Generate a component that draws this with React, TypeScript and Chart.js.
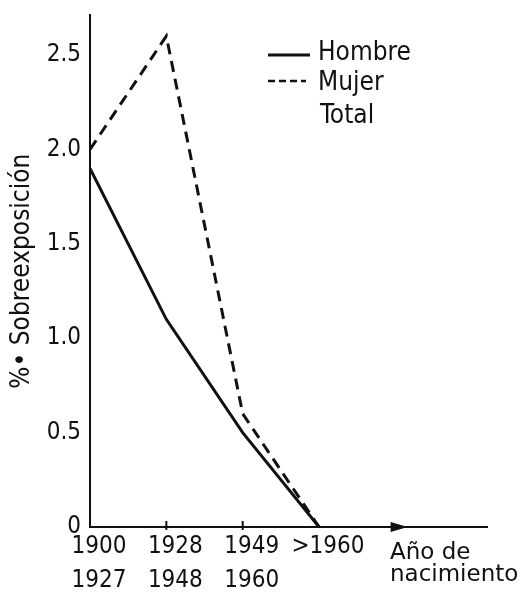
import React, { useEffect, useRef } from "react";
import { Chart, registerables } from "chart.js";

Chart.register(...registerables);

// ---- data ----
const categories: string[][] = [["1900", "1927"], ["1928", "1948"], ["1949", "1960"], [">1960"]];
const hombre = [1.9, 1.1, 0.5, 0];
const mujer = [2.0, 2.6, 0.6, 0];
const yTickValues = [0, 0.5, 1, 1.5, 2, 2.5];
const yTickLabels = ["0", "0.5", "1.0", "1.5", "2.0", "2.5"];
const legendLabels = ["Hombre", "Mujer", "Total"];
const yTitle = "%• Sobreexposición";
const xTitle = ["Año de", "nacimiento"];

const INK = "#111";
const COND = "'DejaVu Sans Condensed', 'DejaVu Sans', sans-serif";

const decorPlugin = {
  id: "decor",
  afterDraw(chart: any) {
    const { ctx, scales } = chart;
    const xs = scales.x;
    const ys = scales.y;
    const y0 = ys.getPixelForValue(0);
    ctx.save();
    ctx.strokeStyle = INK;
    ctx.fillStyle = INK;
    // small tick marks on x axis
    ctx.lineWidth = 2;
    for (let i = 1; i < categories.length - 1; i++) {
      const px = xs.getPixelForValue(i);
      ctx.beginPath();
      ctx.moveTo(px, y0 - 6);
      ctx.lineTo(px, y0 + 3);
      ctx.stroke();
    }
    // arrow head on x axis
    const tip = xs.getPixelForValue(4.16);
    ctx.beginPath();
    ctx.moveTo(tip, y0);
    ctx.lineTo(tip - 17, y0 - 5);
    ctx.lineTo(tip - 17, y0 + 5);
    ctx.closePath();
    ctx.fill();
    // x axis title
    ctx.font = "23px 'DejaVu Sans', sans-serif";
    ctx.textAlign = "left";
    ctx.textBaseline = "alphabetic";
    ctx.fillText(xTitle[0], 390, 559);
    ctx.fillText(xTitle[1], 390, 581);
    // legend
    ctx.font = "26px " + COND;
    ctx.lineWidth = 3;
    ctx.beginPath();
    ctx.moveTo(268, 55);
    ctx.lineTo(310, 55);
    ctx.stroke();
    ctx.setLineDash([7, 4]);
    ctx.lineWidth = 2.5;
    ctx.beginPath();
    ctx.moveTo(268, 81);
    ctx.lineTo(306, 81);
    ctx.stroke();
    ctx.setLineDash([]);
    ctx.fillText(legendLabels[0], 318, 60);
    ctx.fillText(legendLabels[1], 318, 90);
    ctx.fillText(legendLabels[2], 320, 123);
    ctx.restore();
  },
};

export default function App() {
  const ref = useRef<HTMLCanvasElement>(null);
  useEffect(() => {
    const chart = new Chart(ref.current as HTMLCanvasElement, {
      type: "line",
      data: {
        datasets: [
          {
            label: legendLabels[0],
            data: hombre.map((v, i) => ({ x: i, y: v })),
            borderColor: INK,
            borderWidth: 3,
            pointRadius: 0,
            tension: 0,
            fill: false,
          },
          {
            label: legendLabels[1],
            data: mujer.map((v, i) => ({ x: i, y: v })),
            borderColor: INK,
            borderWidth: 3,
            borderDash: [11, 7],
            pointRadius: 0,
            tension: 0,
            fill: false,
          },
        ],
      },
      options: {
        responsive: false,
        animation: false,
        layout: { padding: { top: 12, right: 33, left: 0, bottom: 0 } },
        plugins: {
          legend: { display: false },
          tooltip: { enabled: false },
        },
        scales: {
          x: {
            type: "linear",
            min: 0,
            max: 5.2,
            grid: { display: false },
            border: { display: true, color: INK, width: 2 },
            afterBuildTicks: (s: any) => {
              s.ticks = categories.map((_, i) => ({ value: i }));
            },
            afterFit: (s: any) => {
              s.height = 65;
            },
            ticks: {
              color: INK,
              padding: -5,
              labelOffset: 9,
              maxRotation: 0,
              autoSkip: false,
              font: { family: COND, size: 24, lineHeight: 1.4 },
              callback: (v: any) => categories[Math.round(Number(v))] || "",
            },
          },
          y: {
            type: "linear",
            min: 0,
            max: 2.71,
            grid: { display: false },
            border: { display: true, color: INK, width: 2 },
            afterBuildTicks: (s: any) => {
              s.ticks = yTickValues.map((v) => ({ value: v }));
            },
            afterFit: (s: any) => {
              s.width = 90;
            },
            title: {
              display: true,
              text: yTitle,
              color: INK,
              font: { family: COND, size: 26 },
              padding: { top: 7, bottom: 0 },
            },
            ticks: {
              color: INK,
              padding: 1,
              font: { family: COND, size: 24 },
              callback: (v: any) => {
                const k = yTickValues.indexOf(Number(v));
                return k >= 0 ? yTickLabels[k] : "";
              },
            },
          },
        },
      },
      plugins: [decorPlugin],
    } as any);
    return () => chart.destroy();
  }, []);
  return (
    <div style={{ position: "fixed", left: 0, top: 0, width: 520, height: 592, background: "#fff" }}>
      <canvas ref={ref} width={520} height={592} style={{ display: "block" }} />
    </div>
  );
}
